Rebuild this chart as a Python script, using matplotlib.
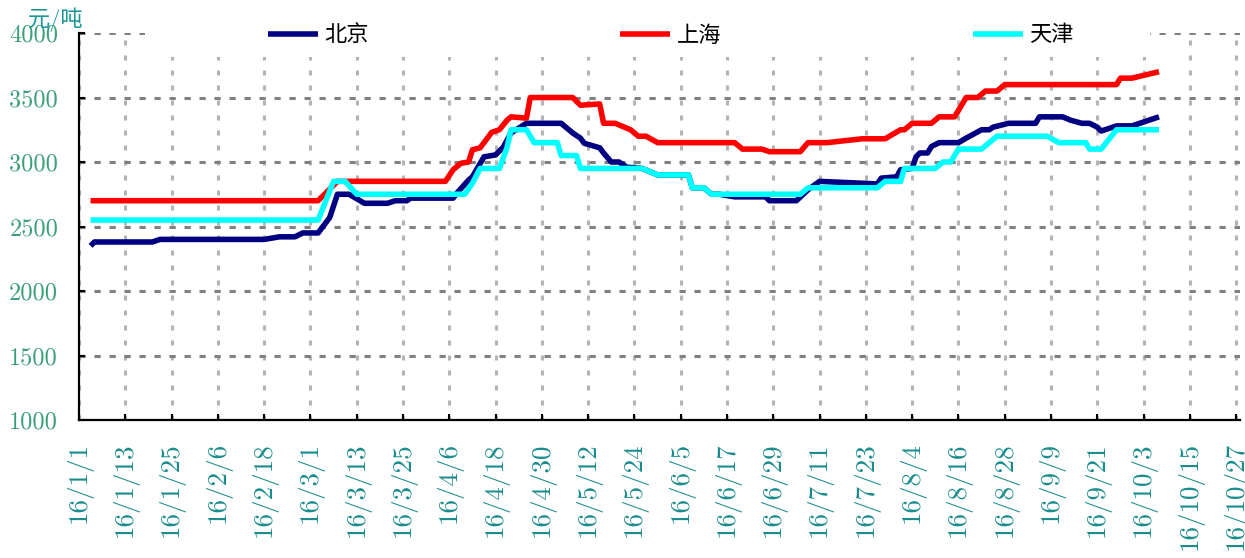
import matplotlib
matplotlib.use("Agg")
import matplotlib.pyplot as plt
import pandas as pd
from matplotlib.patches import Rectangle

plt.rcParams['font.family'] = ['cmr10', 'Noto Sans CJK SC']
plt.rcParams['axes.formatter.use_mathtext'] = True
plt.rcParams['lines.scale_dashes'] = False

# ---- data ----
bj_dates = ['2016-01-04', '2016-01-05', '2016-01-20', '2016-01-22', '2016-02-18', '2016-02-22',
            '2016-02-26', '2016-02-28', '2016-03-03', '2016-03-06', '2016-03-08', '2016-03-11',
            '2016-03-15', '2016-03-21', '2016-03-23', '2016-03-26', '2016-03-27', '2016-04-07',
            '2016-04-08', '2016-04-11', '2016-04-12', '2016-04-15', '2016-04-18', '2016-04-20',
            '2016-04-22', '2016-04-26', '2016-05-05', '2016-05-08', '2016-05-10', '2016-05-11',
            '2016-05-15', '2016-05-16', '2016-05-18', '2016-05-20', '2016-05-22', '2016-05-26',
            '2016-05-30', '2016-06-07', '2016-06-08', '2016-06-11', '2016-06-13', '2016-06-15',
            '2016-06-19', '2016-06-27', '2016-06-28', '2016-07-05', '2016-07-08', '2016-07-11',
            '2016-07-26', '2016-07-27', '2016-07-31', '2016-08-01', '2016-08-04', '2016-08-05',
            '2016-08-06', '2016-08-08', '2016-08-09', '2016-08-11', '2016-08-16', '2016-08-18',
            '2016-08-22', '2016-08-24', '2016-08-25', '2016-08-29', '2016-09-05', '2016-09-06',
            '2016-09-12', '2016-09-14', '2016-09-17', '2016-09-19', '2016-09-21', '2016-09-22',
            '2016-09-26', '2016-09-30', '2016-10-07']
bj_vals = [2350, 2380, 2380, 2400, 2400, 2420, 2420, 2450, 2450, 2570, 2750, 2750,
           2680, 2680, 2700, 2700, 2720, 2720, 2760, 2860, 2885, 3040, 3055, 3115,
           3225, 3300, 3300, 3225, 3185, 3145, 3110, 3070, 3000, 3000, 2960, 2950,
           2900, 2900, 2800, 2800, 2750, 2750, 2730, 2730, 2700, 2700, 2785, 2850,
           2830, 2875, 2885, 2940, 2950, 3040, 3070, 3070, 3120, 3150, 3150, 3185,
           3250, 3250, 3270, 3300, 3300, 3350, 3350, 3325, 3300, 3300, 3270, 3240,
           3280, 3280, 3350]

sh_dates = ['2016-01-04', '2016-03-03', '2016-03-08', '2016-04-05', '2016-04-07', '2016-04-09',
            '2016-04-11', '2016-04-12', '2016-04-14', '2016-04-17', '2016-04-19', '2016-04-21',
            '2016-04-22', '2016-04-26', '2016-04-27', '2016-05-08', '2016-05-10', '2016-05-15',
            '2016-05-16', '2016-05-19', '2016-05-23', '2016-05-25', '2016-05-27', '2016-05-30',
            '2016-06-19', '2016-06-21', '2016-06-26', '2016-06-28', '2016-07-06', '2016-07-08',
            '2016-07-13', '2016-07-22', '2016-07-28', '2016-08-01', '2016-08-02', '2016-08-04',
            '2016-08-09', '2016-08-11', '2016-08-15', '2016-08-17', '2016-08-18', '2016-08-21',
            '2016-08-23', '2016-08-26', '2016-08-28', '2016-09-26', '2016-09-27', '2016-09-30',
            '2016-10-07']
sh_vals = [2700, 2700, 2850, 2850, 2940, 2990, 3000, 3095, 3110, 3230, 3250, 3325,
           3350, 3340, 3500, 3500, 3440, 3450, 3300, 3300, 3250, 3200, 3200, 3150,
           3150, 3100, 3100, 3080, 3080, 3150, 3150, 3180, 3180, 3250, 3250, 3300,
           3300, 3350, 3350, 3450, 3500, 3500, 3550, 3550, 3600, 3600, 3650, 3650,
           3700]

tj_dates = ['2016-01-04', '2016-03-03', '2016-03-07', '2016-03-10', '2016-03-13', '2016-04-10',
            '2016-04-12', '2016-04-14', '2016-04-19', '2016-04-21', '2016-04-22', '2016-04-26',
            '2016-04-28', '2016-05-04', '2016-05-05', '2016-05-09', '2016-05-10', '2016-05-26',
            '2016-05-30', '2016-06-07', '2016-06-08', '2016-06-11', '2016-06-13', '2016-07-06',
            '2016-07-08', '2016-07-26', '2016-07-28', '2016-08-01', '2016-08-02', '2016-08-10',
            '2016-08-12', '2016-08-14', '2016-08-16', '2016-08-22', '2016-08-24', '2016-08-26',
            '2016-09-08', '2016-09-11', '2016-09-18', '2016-09-19', '2016-09-22', '2016-09-26',
            '2016-10-07']
tj_vals = [2550, 2550, 2850, 2850, 2750, 2750, 2835, 2950, 2950, 3115, 3250, 3250,
           3150, 3150, 3050, 3050, 2950, 2950, 2900, 2900, 2800, 2800, 2750, 2750,
           2800, 2800, 2850, 2850, 2950, 2950, 3000, 3000, 3100, 3100, 3150, 3200,
           3200, 3150, 3150, 3100, 3100, 3250, 3250]

series_names = ['北京', '上海', '天津']
series_colors = ['#000080', '#ff0000', '#00ffff']
y_ticks = [1000, 1500, 2000, 2500, 3000, 3500, 4000]
unit_label = '元/吨'

# ---- figure ----
W, H = 1245, 558
fig = plt.figure(figsize=(W / 100, H / 100), dpi=100)
ax = fig.add_axes([79 / W, 138 / H, (1240 - 79) / W, 387 / H])

for dates, vals, name, col in zip([bj_dates, sh_dates, tj_dates],
                                  [bj_vals, sh_vals, tj_vals],
                                  series_names, series_colors):
    ax.plot(pd.to_datetime(dates), vals, color=col, lw=4.0, label=name,
            solid_joinstyle='round', solid_capstyle='butt')

start = pd.Timestamp('2016-01-01')
x_ticks = pd.date_range(start, '2016-10-27', freq='12D')
ax.set_xlim(start, start + pd.Timedelta(days=301))
ax.set_xticks(x_ticks)
ax.set_xticklabels([f"{d.year % 100}/{d.month}/{d.day}" for d in x_ticks],
                   rotation=90, fontsize=19.5, color='#1a8c8c')

ax.set_ylim(1000, 4000)
ax.set_yticks(y_ticks)
ax.set_yticklabels([str(v) for v in y_ticks], fontsize=17.5, color='#3c9f78')

ax.tick_params(axis='both', direction='in', length=4, width=1.5, color='black')
ax.tick_params(axis='y', pad=15)
ax.tick_params(axis='x', pad=16)

for s in ['top', 'right']:
    ax.spines[s].set_visible(False)
for s in ['left', 'bottom']:
    ax.spines[s].set_linewidth(1.6)
    ax.spines[s].set_color('black')

ax.set_axisbelow(True)
ax.grid(axis='y', color='#808080', lw=2.2, linestyle=(0, (4.5, 6.3)))
ax.grid(axis='x', color='#b4b4b4', lw=2.2, linestyle=(0, (3.6, 7.2)))

# white legend background like the Excel legend box
fig.add_artist(Rectangle((145 / W, 1 - 57 / H), (1150 - 145) / W, 57 / H,
                         transform=fig.transFigure, facecolor='white',
                         edgecolor='none', zorder=1))

fig.legend(loc='center left', bbox_to_anchor=(268 / W, 1 - 35 / H), ncol=3,
           frameon=False, borderpad=0, borderaxespad=0, fontsize=16,
           handlelength=2.25, handletextpad=0.3, columnspacing=11.3)

fig.text(28 / W, 1 - 20 / H, unit_label, fontsize=16, color='#1a9696',
         ha='left', va='center')

fig.savefig('out.png', dpi=100)
